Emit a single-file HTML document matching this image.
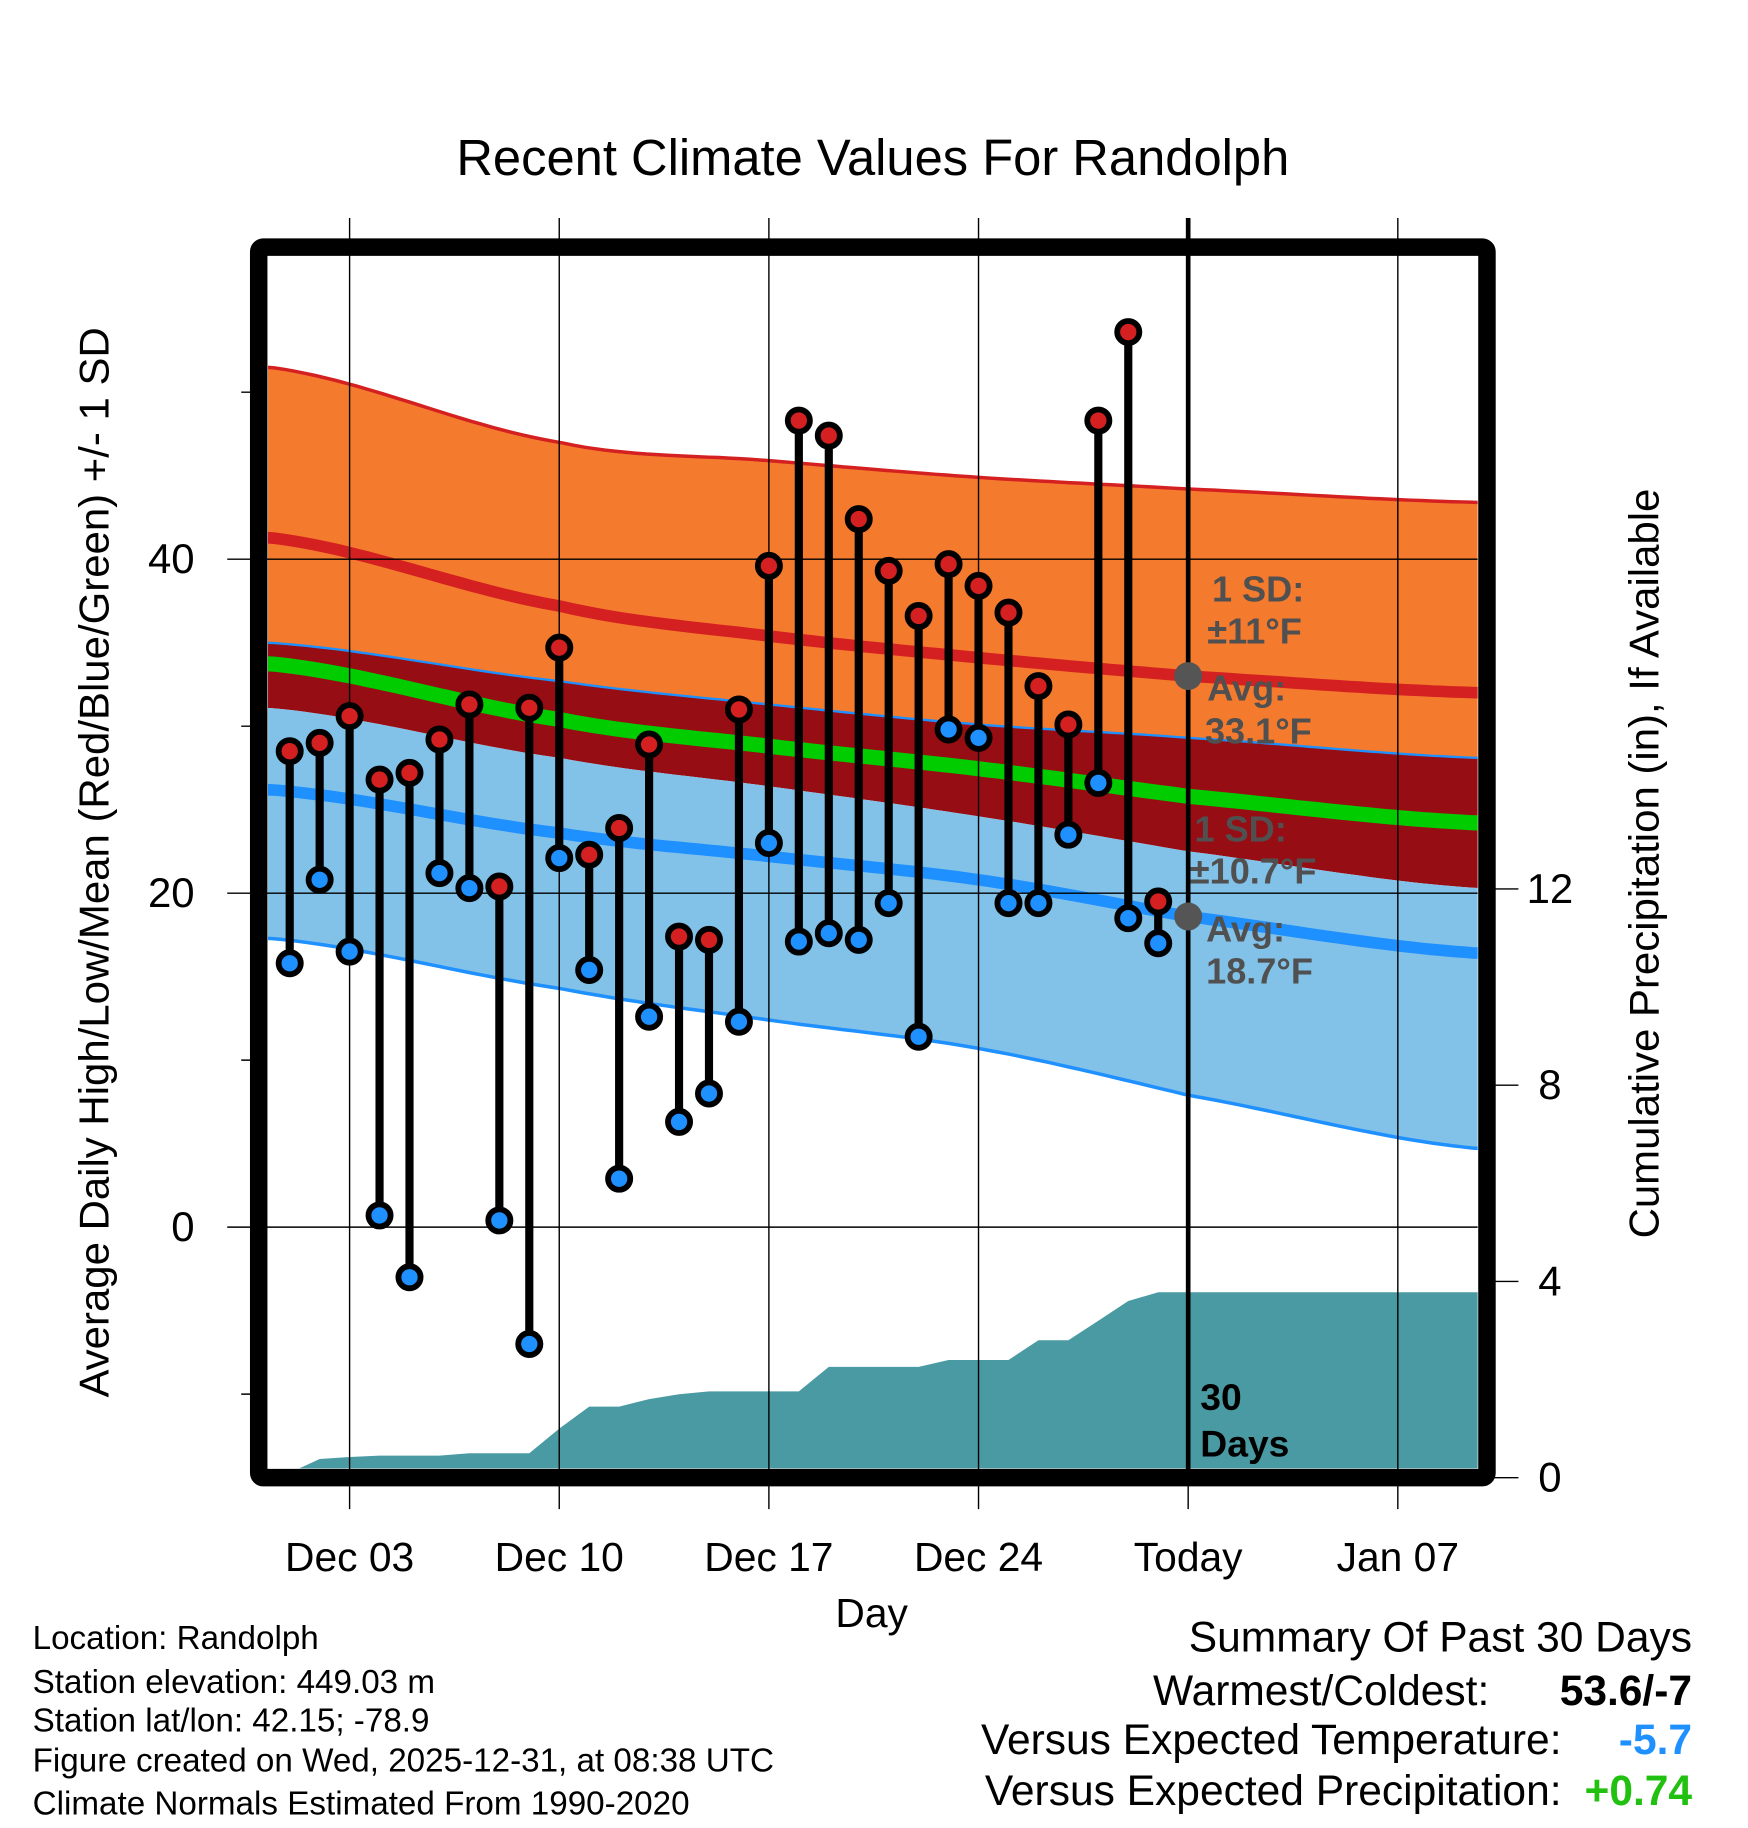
<!DOCTYPE html>
<html><head><meta charset="utf-8"><style>
html,body{margin:0;padding:0;background:#fff}
svg{display:block;font-family:"Liberation Sans",sans-serif}
</style></head><body>
<svg id="chart" width="1748" height="1828" viewBox="0 0 1500 1568.6" xmlns="http://www.w3.org/2000/svg">
<text x="749" y="150" font-size="43.5" text-anchor="middle">Recent Climate Values For Randolph</text>
<g id="plot"></g>
<text transform="translate(93,740) rotate(-90)" font-size="36" text-anchor="middle">Average Daily High/Low/Mean (Red/Blue/Green) +/- 1 SD</text>
<text transform="translate(1423,741) rotate(-90)" font-size="36" text-anchor="middle">Cumulative Precipitation (in), If Available</text>
<text x="748" y="1396" font-size="35" text-anchor="middle">Day</text>
<g font-size="28.5">
<text x="28" y="1415">Location: Randolph</text>
<text x="28" y="1453">Station elevation: 449.03 m</text>
<text x="28" y="1486">Station lat/lon: 42.15; -78.9</text>
<text x="28" y="1520">Figure created on Wed, 2025-12-31, at 08:38 UTC</text>
<text x="28" y="1557">Climate Normals Estimated From 1990-2020</text>
</g>
<g font-size="36.5">
<text x="1452" y="1417" text-anchor="end">Summary Of Past 30 Days</text>
<text x="1278" y="1463" text-anchor="end">Warmest/Coldest:</text>
<text x="1452" y="1463" text-anchor="end" font-weight="bold">53.6/-7</text>
<text x="1340" y="1505" text-anchor="end">Versus Expected Temperature:</text>
<text x="1452" y="1505" text-anchor="end" font-weight="bold" fill="#1e90ff">-5.7</text>
<text x="1340" y="1549" text-anchor="end">Versus Expected Precipitation:</text>
<text x="1452" y="1549" text-anchor="end" font-weight="bold" fill="#22c010">+0.74</text>
</g>
</svg>
<script>
const highs=[28.5,29.0,30.6,26.8,27.2,29.2,31.3,20.4,31.1,34.7,22.3,23.9,28.9,17.4,17.2,31.0,39.6,48.3,47.4,42.4,39.3,36.6,39.7,38.4,36.8,32.4,30.1,48.3,53.6,19.5];
const lows=[15.8,20.8,16.5,0.7,-3.0,21.2,20.3,0.4,-7.0,22.1,15.4,2.9,12.6,6.3,8.0,12.3,23.0,17.1,17.6,17.2,19.4,11.4,29.8,29.3,19.4,19.4,23.5,26.6,18.5,17.0];
const precip=[0.1,0.38,0.42,0.45,0.45,0.45,0.5,0.5,0.5,1.0,1.45,1.45,1.6,1.7,1.76,1.76,1.76,1.76,2.26,2.26,2.26,2.26,2.4,2.4,2.4,2.8,2.8,3.2,3.6,3.78];
const normDays=[-0.7,9,16,23,30,39.7];
const highPlusSd=[51.5,47.0,45.9,44.9,44.2,43.4];
const highMean=[41.3,37.2,35.4,34.1,33.0,32.0];
const highMinusSd=[35.0,32.7,31.3,30.1,29.3,28.1];
const lowPlusSd=[31.1,28.1,26.4,24.6,22.5,20.3];
const lowMean=[26.2,23.6,22.2,20.8,18.6,16.4];
const lowMinusSd=[17.3,14.3,12.4,10.7,7.9,4.7];
const dateLabels=["Dec 03","Dec 10","Dec 17","Dec 24","Today","Jan 07"];
const dateDays=[2,9,16,23,30,37];
const yTicks=[0,20,40];
const yMinor=[-10,10,30,50];
const y2Ticks=[0,4,8,12];

const X0=230,X1=1268,Y0=219,Y1=1260;
const xs=d=>248.6+25.7*d;
const ys=t=>1053-14.33*t;
const yp=p=>1268-42.1*p;
const NS="http://www.w3.org/2000/svg";
const plot=document.getElementById('plot');
function mk(tag,attrs,parent){const e=document.createElementNS(NS,tag);for(const k in attrs)e.setAttribute(k,attrs[k]);(parent||plot).appendChild(e);return e;}
function interp(arr,d){const n=normDays.length;let i=0;while(i<n-2&&d>normDays[i+1])i++;
const p0=arr[Math.max(i-1,0)],p1=arr[i],p2=arr[i+1],p3=arr[Math.min(i+2,n-1)];
const t=(d-normDays[i])/(normDays[i+1]-normDays[i]);
const t2=t*t,t3=t2*t;
return 0.5*((2*p1)+(-p0+p2)*t+(2*p0-5*p1+4*p2-p3)*t2+(-p0+3*p1-3*p2+p3)*t3);}
function smooth(arr){const pts=[];const a=-1.2,b=40.2;for(let k=0;k<=120;k++){const d=a+(b-a)*k/120;pts.push([xs(d),ys(interp(arr,Math.min(Math.max(d,-0.7),39.7)))]);}return pts;}
function poly(p){return p.map(q=>q[0].toFixed(1)+','+q[1].toFixed(1)).join(' ');}

const clip=mk('clipPath',{id:'pc'});mk('rect',{x:X0,y:Y0,width:X1-X0,height:Y1-Y0},clip);
const g=mk('g',{'clip-path':'url(#pc)'});


const hp=smooth(highPlusSd),hm=smooth(highMinusSd),lp=smooth(lowPlusSd),lm=smooth(lowMinusSd);
let e;
e=mk('polygon',{points:poly(hp.concat(hm.slice().reverse())),fill:'#f47a2e'},g);

e=mk('polygon',{points:poly(hm.concat(lp.slice().reverse())),fill:'#960e14'},g);

e=mk('polygon',{points:poly(lp.concat(lm.slice().reverse())),fill:'#82c1e8'},g);

e=mk('polyline',{points:poly(hp),fill:'none',stroke:'#d42020','stroke-width':3},g);

e=mk('polyline',{points:poly(hm),fill:'none',stroke:'#1e90ff','stroke-width':2},g);

e=mk('polyline',{points:poly(lm),fill:'none',stroke:'#1e90ff','stroke-width':3},g);

e=mk('polyline',{points:poly(smooth(highMean)),fill:'none',stroke:'#d42020','stroke-width':10},g);

e=mk('polyline',{points:poly(smooth(lowMean)),fill:'none',stroke:'#1e90ff','stroke-width':10},g);

e=mk('polyline',{points:poly(smooth(highMean.map((h,i)=>(h+lowMean[i])/2))),fill:'none',stroke:'#00cc00','stroke-width':13},g);

// precip
const pp=[[xs(-0.5),yp(0)]].concat(precip.map((p,i)=>[xs(i),yp(p)]));
pp.push([X1+5,yp(precip[precip.length-1])]);pp.push([X1+5,Y1+5]);pp.push([xs(-0.5),Y1+5]);
e=mk('polygon',{points:poly(pp),fill:'#4a9aa3'},g);

// grid
dateDays.forEach((d,i)=>{e=mk('line',{x1:xs(d),x2:xs(d),y1:187,y2:1295,stroke:'#000','stroke-width':1.2});

e=mk('text',{x:xs(d),y:1348,'font-size':35,'text-anchor':'middle'});e.textContent=dateLabels[i];
});
yTicks.forEach(t=>{e=mk('line',{x1:195,x2:X1,y1:ys(t),y2:ys(t),stroke:'#000','stroke-width':1.2});

e=mk('text',{x:167,y:ys(t)+12,'font-size':36,'text-anchor':'end'});e.textContent=t;
});
yMinor.forEach(t=>{e=mk('line',{x1:207,x2:222,y1:ys(t),y2:ys(t),stroke:'#000','stroke-width':1.2});
});
y2Ticks.forEach(t=>{e=mk('line',{x1:1276,x2:1303,y1:yp(t),y2:yp(t),stroke:'#000','stroke-width':1.2});

e=mk('text',{x:1330,y:yp(t)+12,'font-size':36,'text-anchor':'middle'});e.textContent=t;
});
// today line
e=mk('line',{x1:xs(30),x2:xs(30),y1:187,y2:1262,stroke:'#000','stroke-width':4});

// stems and dots
highs.forEach((h,i)=>{const x=xs(i);
e=mk('line',{x1:x,x2:x,y1:ys(h),y2:ys(lows[i]),stroke:'#000','stroke-width':7});
});
highs.forEach((h,i)=>{const x=xs(i);
e=mk('circle',{cx:x,cy:ys(h),r:9.5,fill:'#d42020',stroke:'#000','stroke-width':5});

e=mk('circle',{cx:x,cy:ys(lows[i]),r:9.5,fill:'#1e90ff',stroke:'#000','stroke-width':5});
});
// annotations
const tdx=xs(30);
e=mk('circle',{cx:tdx,cy:ys(highMean[4]),r:12,fill:'#555'});

e=mk('circle',{cx:tdx,cy:ys(lowMean[4]),r:12,fill:'#555'});

[["1 SD:",1040,516],["±11°F",1036,552],["Avg:",1036,601],["33.1°F",1034,638],["1 SD:",1025,722],["±10.7°F",1021,758],["Avg:",1035,808],["18.7°F",1035,844]].forEach(a=>{
e=mk('text',{x:a[1],y:a[2],'font-size':31,'font-weight':'bold',fill:'#505050'});e.textContent=a[0];
});
e=mk('text',{x:1030,y:1210,'font-size':32,'font-weight':'bold'});e.textContent="30";

e=mk('text',{x:1030,y:1250,'font-size':32,'font-weight':'bold'});e.textContent="Days";

// frame
e=mk('rect',{x:222,y:212,width:1054,height:1056,fill:'none',stroke:'#000','stroke-width':15,rx:4});

</script>
</body></html>
